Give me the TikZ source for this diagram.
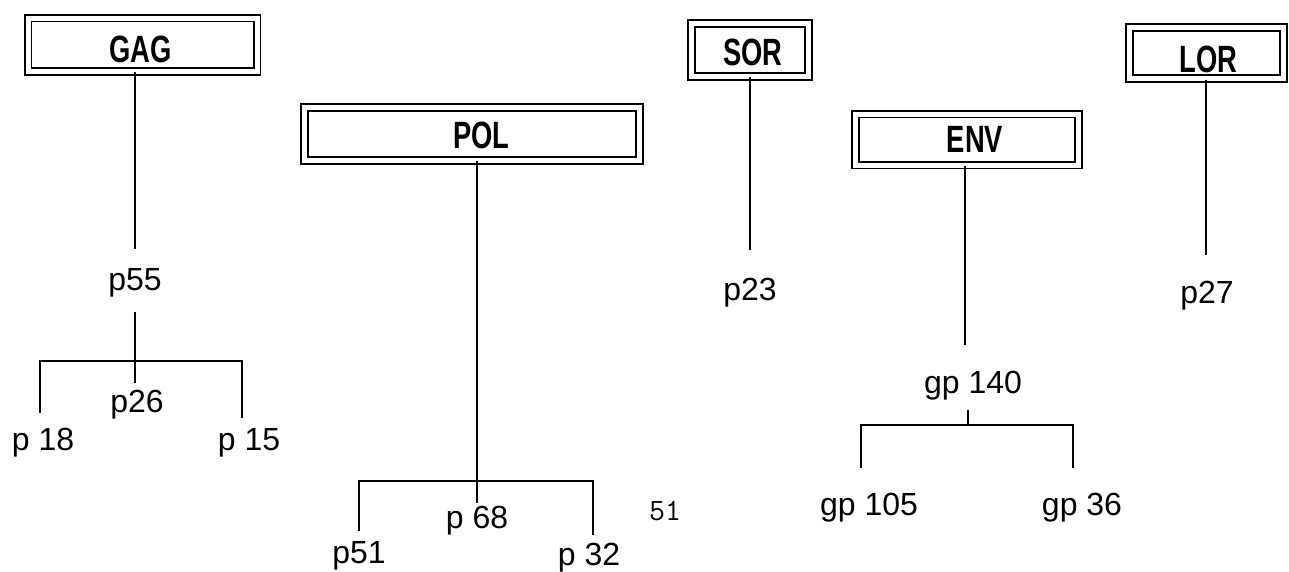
\documentclass[tikz,border=0pt]{standalone}
\usepackage{fontspec}
\setmainfont{Liberation Sans}
\begin{document}
\begin{tikzpicture}[x=1pt,y=-1pt,
  box/.style={draw=black,line width=1.8pt,double=white,double distance=5pt,inner sep=0pt},
  boxtxt/.style={inner sep=0pt,anchor=base,font=\bfseries\fontsize{38}{38}\selectfont},
  lab/.style={inner sep=0pt,anchor=base,font=\fontsize{32}{32}\selectfont},
  link/.style={line width=1.8pt,black}]
\useasboundingbox (0,0) rectangle (1289,571);
% boxes
\node[box,minimum width=229pt,minimum height=53.5pt] (gag) at (142.5,44.75) {};
\node[boxtxt] (gagt) at (140.5,62) {\scalebox{0.72}[1]{GAG}};
\node[box,minimum width=334.5pt,minimum height=53pt] (pol) at (472,134) {};
\node[boxtxt] (polt) at (481.5,148) {\scalebox{0.72}[1]{POL}};
\node[box,minimum width=116.5pt,minimum height=53pt] (sor) at (750,50) {};
\node[boxtxt] (sort) at (753,65) {\scalebox{0.72}[1]{SOR}};
\node[box,minimum width=222.5pt,minimum height=51pt] (env) at (967,139.5) {};
\node[boxtxt] (envt) at (975,152) {\scalebox{0.72}[1]{ENV}};
\node[box,minimum width=154pt,minimum height=51.5pt] (lor) at (1206.5,53) {};
\node[boxtxt] (lort) at (1208.5,72) {\scalebox{0.72}[1]{LOR}};
% labels
\node[lab] (p55) at (135,290) {p55};
\node[lab] (p26) at (137,412) {p26};
\node[lab] (p18) at (43,450) {p 18};
\node[lab] (p15) at (249,450) {p 15};
\node[lab] (p68) at (477,528) {p 68};
\node[lab] (p51) at (359,563) {p51};
\node[lab] (p32) at (589,565) {p 32};
\node[inner sep=0pt,anchor=base,font=\ttfamily\fontsize{31}{31}\selectfont] (n51) at (665,520) {51};
\node[lab] (p23) at (750,300) {p23};
\node[lab] (p27) at (1207,303) {p27};
\node[lab] (gp140) at (973,393) {gp 140};
\node[lab] (gp105) at (869,515) {gp 105};
\node[lab] (gp36) at (1082,515) {gp 36};
\coordinate (gbar) at (0,361);
\coordinate (pbar) at (0,481);
\coordinate (ebar) at (0,425);
% GAG tree
\draw[link,shorten >=19pt] (p55.north |- gag.south) -- (p55.north);
\draw[link,shorten <=15pt,shorten >=6pt] (p55.south) -- (p55.south |- p26.north);
\draw[link,shorten <=14pt,shorten >=10pt] ([xshift=-3pt]p18.north) -- ([xshift=-3pt]p18.north |- gbar) -- ([xshift=-7pt]p15.north |- gbar) -- ([xshift=-7pt]p15.north);
% POL tree
\draw[link,shorten >=2pt] (p68.north |- pol.south) -- (p68.north);
\draw[link,shorten <=10pt,shorten >=7pt] (p51.north) -- (p51.north |- pbar) -- ([xshift=4pt]p32.north |- pbar) -- ([xshift=4pt]p32.north);
% SOR, LOR
\draw[link,shorten >=27pt] (p23.north |- sor.south) -- (p23.north);
\draw[link,shorten >=25pt] ([xshift=-1pt]p27.north |- lor.south) -- ([xshift=-1pt]p27.north);
% ENV tree
\draw[link,shorten >=25pt] ([xshift=-8pt]gp140.north |- env.south) -- ([xshift=-8pt]gp140.north);
\draw[link,shorten <=10pt] ([xshift=-5pt]gp140.south) -- ([xshift=-5pt]gp140.south |- ebar);
\draw[link,shorten <=24pt,shorten >=24pt] ([xshift=-8pt]gp105.north) -- ([xshift=-8pt]gp105.north |- ebar) -- ([xshift=-9pt]gp36.north |- ebar) -- ([xshift=-9pt]gp36.north);
\end{tikzpicture}
\end{document}
